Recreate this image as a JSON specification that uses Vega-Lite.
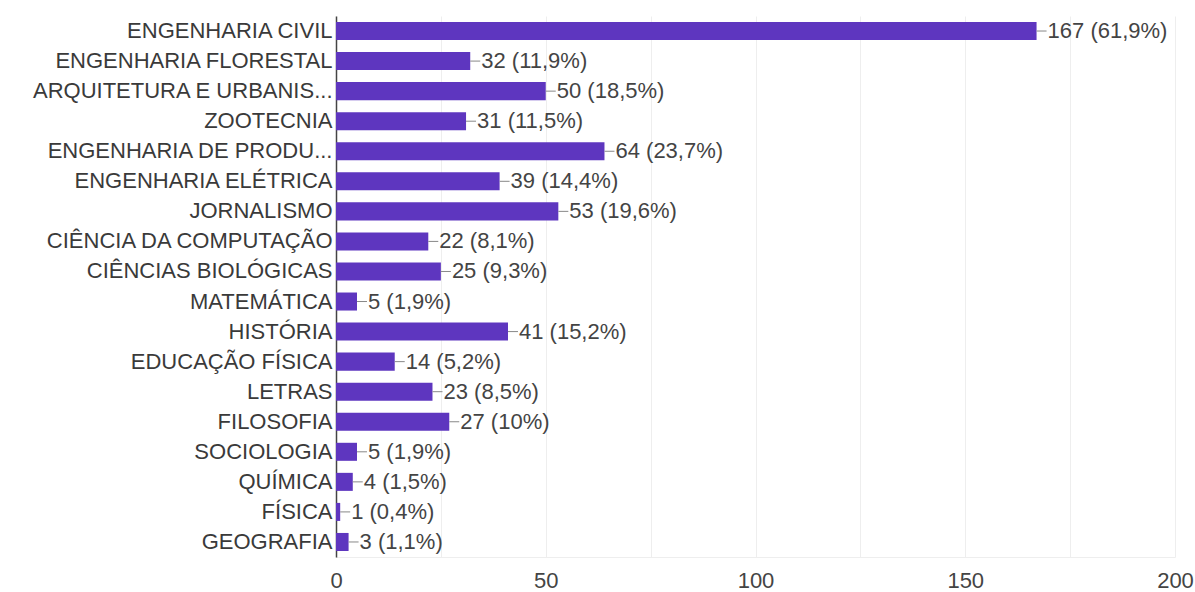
{
  "$schema": "https://vega.github.io/schema/vega-lite/v6.json",
  "autosize": "none",
  "width": 839,
  "height": 541,
  "padding": {"left": 336, "top": 16, "right": 20, "bottom": 35},
  "background": "white",
  "config": {"view": {"stroke": null}, "font": "Liberation Sans"},
  "data": {"values": [
    {"curso": "ENGENHARIA CIVIL", "n": 167, "label": "167 (61,9%)"},
    {"curso": "ENGENHARIA FLORESTAL", "n": 32, "label": "32 (11,9%)"},
    {"curso": "ARQUITETURA E URBANIS...", "n": 50, "label": "50 (18,5%)"},
    {"curso": "ZOOTECNIA", "n": 31, "label": "31 (11,5%)"},
    {"curso": "ENGENHARIA DE PRODU...", "n": 64, "label": "64 (23,7%)"},
    {"curso": "ENGENHARIA ELÉTRICA", "n": 39, "label": "39 (14,4%)"},
    {"curso": "JORNALISMO", "n": 53, "label": "53 (19,6%)"},
    {"curso": "CIÊNCIA DA COMPUTAÇÃO", "n": 22, "label": "22 (8,1%)"},
    {"curso": "CIÊNCIAS BIOLÓGICAS", "n": 25, "label": "25 (9,3%)"},
    {"curso": "MATEMÁTICA", "n": 5, "label": "5 (1,9%)"},
    {"curso": "HISTÓRIA", "n": 41, "label": "41 (15,2%)"},
    {"curso": "EDUCAÇÃO FÍSICA", "n": 14, "label": "14 (5,2%)"},
    {"curso": "LETRAS", "n": 23, "label": "23 (8,5%)"},
    {"curso": "FILOSOFIA", "n": 27, "label": "27 (10%)"},
    {"curso": "SOCIOLOGIA", "n": 5, "label": "5 (1,9%)"},
    {"curso": "QUÍMICA", "n": 4, "label": "4 (1,5%)"},
    {"curso": "FÍSICA", "n": 1, "label": "1 (0,4%)"},
    {"curso": "GEOGRAFIA", "n": 3, "label": "3 (1,1%)"}
  ]},
  "encoding": {
    "y": {
      "field": "curso", "type": "nominal", "sort": null,
      "scale": {"paddingInner": 0.4, "paddingOuter": 0.2},
      "axis": {"title": null, "ticks": false, "domainColor": "#444", "domainWidth": 1.5, "labelFontSize": 22, "labelColor": "#3a3a3a", "labelPadding": 4, "labelLimit": 400}
    }
  },
  "layer": [
    {
      "mark": {"type": "bar", "color": "#5e36bf"},
      "encoding": {
        "x": {
          "field": "n", "type": "quantitative",
          "scale": {"domain": [0, 200], "nice": false},
          "axis": {"title": null, "values": [0, 25, 50, 75, 100, 125, 150, 175, 200], "labelExpr": "datum.value % 50 == 0 ? datum.label : ''", "labelFlush": false, "ticks": false, "domainColor": "#eeeeee", "gridColor": "#eeeeee", "labelFontSize": 22, "labelColor": "#444", "labelPadding": 13}
        }
      }
    },
    {
      "mark": {"type": "rule", "color": "#888", "strokeWidth": 1, "x2Offset": 10},
      "encoding": {
        "x": {"field": "n", "type": "quantitative"},
        "x2": {"field": "n"}
      }
    },
    {
      "mark": {"type": "text", "align": "left", "baseline": "middle", "dx": 11, "fontSize": 22, "color": "#444"},
      "encoding": {
        "x": {"field": "n", "type": "quantitative"},
        "text": {"field": "label"}
      }
    }
  ]
}
